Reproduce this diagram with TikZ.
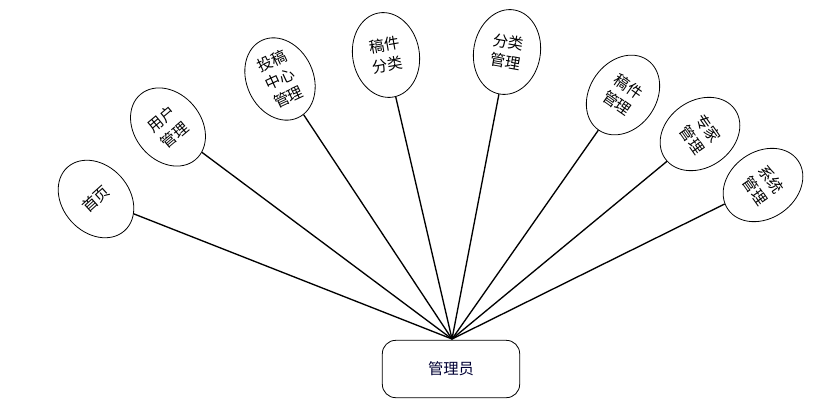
\documentclass[tikz,border=0pt]{standalone}
\usepackage{fontspec}
\newfontfamily\cjk{Noto Sans CJK SC}
\usetikzlibrary{shapes.geometric}
\tikzset{
  func/.style={ellipse, draw, line width=0.6pt, minimum width=50pt, minimum height=64pt, inner sep=0pt, align=center, font=\cjk\fontsize{11.5}{15}\selectfont},
  hubbox/.style={draw, line width=0.6pt, rounded corners=10pt, minimum width=103pt, minimum height=43pt, font=\cjk\fontsize{11.5}{14}\selectfont, text=black!80!blue},
  conn/.style={line width=1pt}
}
\begin{document}
\begin{tikzpicture}[x=0.75pt,y=-0.75pt]
\useasboundingbox (0,0) rectangle (824,410);
\node[hubbox] (admin) at (451,369) {管理员};
\coordinate (hub) at (452,339);
\node[func, rotate=42] (e1) at (96,199) {首页};
\node[func, rotate=40] (e2) at (168,127) {用户\\管理};
\node[func, rotate=25] (e3) at (280,79) {投稿\\中心\\管理};
\node[func, rotate=10] (e4) at (386,55) {稿件\\分类};
\node[func, rotate=-10] (e5) at (507,52) {分类\\管理};
\node[func, rotate=-35] (e6) at (623,95) {稿件\\管理};
\node[func, rotate=-55] (e7) at (700,134) {专家\\管理};
\node[func, rotate=-55] (e8) at (763,185) {系统\\管理};
\foreach \e in {e1,e2,e3,e4,e5,e6,e7,e8}
  \draw[conn] (hub) -- (\e);
\end{tikzpicture}
\end{document}
